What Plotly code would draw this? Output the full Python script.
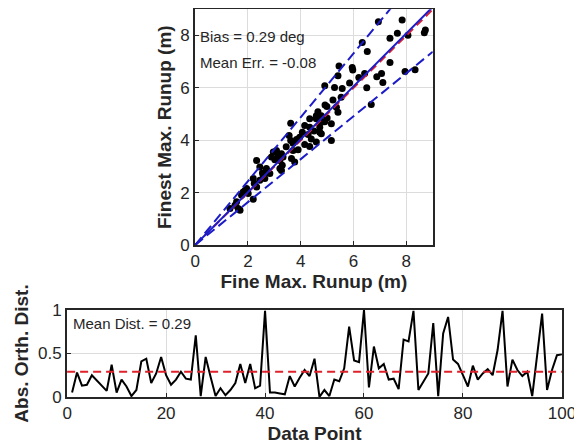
import plotly.graph_objs as go
from plotly.subplots import make_subplots

# scatter: fine vs finest max runup (m)
fine_runup = [6.94, 7.84, 8.72, 8.68, 7.66, 7.38, 8.06, 6.33, 6.52, 5.45,
              5.95, 5.97, 7.38, 6.42, 5.41, 7.06, 6.88, 7.11, 7.95, 8.33,
              5.85, 4.91, 5.28, 5.57, 6.50, 5.22, 5.53, 4.92, 4.99, 6.67,
              5.41, 5.35, 4.65, 4.59, 4.78, 5.16, 4.15, 4.34, 4.72, 4.59,
              4.78, 4.91, 4.34, 3.62, 4.06, 4.28, 4.72, 4.78, 5.16, 3.56,
              3.62, 3.71, 3.84, 3.96, 3.90, 4.15, 4.34, 4.59, 2.96, 3.08,
              3.14, 3.27, 2.89, 3.02, 3.21, 3.71, 3.65, 3.77, 2.33, 2.45,
              2.70, 3.27, 3.21, 2.70, 2.83, 2.58, 2.64, 2.45, 2.20, 2.24,
              2.33, 1.95, 1.82, 2.01, 1.76, 2.20, 1.57, 1.51, 1.63, 1.70,
              1.32, 3.33, 4.50, 3.45, 2.55, 1.90, 6.20, 4.40, 3.30, 5.00]
finest_runup = [8.53, 8.59, 8.21, 8.11, 8.09, 7.90, 8.01, 7.73, 7.39, 6.84,
                6.78, 6.68, 6.97, 6.55, 6.46, 6.55, 6.43, 6.21, 6.63, 6.69,
                6.19, 6.08, 6.02, 5.98, 6.01, 5.54, 5.64, 5.35, 5.29, 5.37,
                5.07, 5.26, 5.09, 4.94, 4.94, 4.63, 4.56, 4.50, 4.50, 4.82,
                4.69, 4.71, 4.82, 4.65, 4.31, 4.22, 4.31, 4.25, 3.99, 4.18,
                3.99, 3.89, 4.03, 4.12, 3.64, 3.84, 3.76, 3.93, 3.55, 3.61,
                3.42, 3.49, 3.36, 3.26, 3.23, 3.61, 3.30, 3.17, 3.23, 2.98,
                2.92, 2.85, 2.92, 2.85, 2.73, 2.66, 2.54, 2.47, 2.54, 2.35,
                2.22, 2.16, 2.03, 1.97, 1.90, 1.75, 1.65, 1.52, 1.40, 1.33,
                1.40, 3.36, 4.35, 3.75, 2.75, 2.10, 6.40, 4.05, 3.05, 4.85]

# fit lines (slopes through origin)
line_x = [0, 9]
fit_slope = 1.0102
upper_slope = 1.22
lower_slope = 0.82
one_to_one = 1.0

# orthogonal distance per data point
point_idx = list(range(1, 101))
orth_dist = [0.05, 0.28, 0.13, 0.14, 0.25, 0.19, 0.13, 0.07, 0.37, 0.05,
             0.20, 0.12, 0.01, 0.08, 0.41, 0.44, 0.16, 0.27, 0.46, 0.25,
             0.14, 0.20, 0.29, 0.21, 0.20, 0.71, 0.01, 0.46, 0.23, 0.01,
             0.10, 0.02, 0.08, 0.16, 0.38, 0.16, 0.38, 0.10, 0.13, 0.99,
             0.05, 0.05, 0.04, 0.03, 0.24, 0.12, 0.22, 0.31, 0.24, 0.44,
             0.00, 0.08, 0.01, 0.20, 0.18, 0.33, 0.81, 0.42, 0.40, 1.00,
             0.11, 0.58, 0.33, 0.38, 0.20, 0.21, 0.09, 0.66, 0.64, 0.99,
             0.08, 0.18, 0.27, 0.85, 0.01, 0.73, 0.92, 0.43, 0.38, 0.25,
             0.12, 0.36, 0.20, 0.27, 0.32, 0.25, 0.54, 0.99, 0.12, 0.43,
             0.31, 0.24, 0.29, 0.01, 0.52, 0.96, 0.08, 0.31, 0.48, 0.49]
mean_dist = 0.29
mean_x = [0, 100]

blue = '#1c1cc8'
red = '#e0202a'
ink = '#262626'

fig = make_subplots(rows=2, cols=1)

fig.add_trace(go.Scatter(x=fine_runup, y=finest_runup, mode='markers',
                         marker=dict(color='black', size=7)), row=1, col=1)
fig.add_trace(go.Scatter(x=line_x, y=[one_to_one * v for v in line_x], mode='lines',
                         line=dict(color=red, width=2, dash='8px,5px')), row=1, col=1)
fig.add_trace(go.Scatter(x=line_x, y=[fit_slope * v for v in line_x], mode='lines',
                         line=dict(color=blue, width=2)), row=1, col=1)
fig.add_trace(go.Scatter(x=line_x, y=[upper_slope * v for v in line_x], mode='lines',
                         line=dict(color=blue, width=2, dash='10px,5px')), row=1, col=1)
fig.add_trace(go.Scatter(x=line_x, y=[lower_slope * v for v in line_x], mode='lines',
                         line=dict(color=blue, width=2, dash='10px,5px')), row=1, col=1)

fig.add_trace(go.Scatter(x=point_idx, y=orth_dist, mode='lines',
                         line=dict(color='black', width=2)), row=2, col=1)
fig.add_trace(go.Scatter(x=mean_x, y=[mean_dist] * 2, mode='lines',
                         line=dict(color=red, width=2, dash='8px,5px')), row=2, col=1)

axis_style = dict(showline=True, mirror=True, linecolor=ink, linewidth=2,
                  gridcolor='#dcdcdc', gridwidth=1, zeroline=False,
                  ticks='inside', ticklen=4, tickcolor=ink, automargin=False,
                  tickfont=dict(family='Liberation Sans', size=17, color=ink))
title_font = dict(family='Liberation Sans', size=19, color=ink)

# page body has an 8px margin, so the figure is 8px smaller than the window
fig.update_layout(
    width=574, height=439, showlegend=False,
    margin=dict(l=0, r=0, t=0, b=0),
    plot_bgcolor='white', paper_bgcolor='white',
    xaxis=dict(axis_style, domain=[0.326, 0.740], range=[0, 9], dtick=2,
               title=dict(text='<b>Fine Max. Runup (m)</b>', font=title_font, standoff=2)),
    yaxis=dict(axis_style, domain=[0.460, 0.997], range=[0, 9], dtick=2,
               title=dict(text='<b>Finest Max. Runup (m)</b>', font=title_font, standoff=4)),
    xaxis2=dict(axis_style, domain=[0.103, 0.965], range=[0, 100], dtick=20,
                title=dict(text='<b>Data Point</b>', font=title_font, standoff=2)),
    yaxis2=dict(axis_style, domain=[0.114, 0.312], range=[0, 1],
                tickvals=[0, 0.5, 1], ticktext=['0', '0.5', '1'],
                title=dict(text='<b>Abs. Orth. Dist.</b>', font=title_font, standoff=4)),
)

note_font = dict(family='Liberation Sans', size=15, color=ink)
fig.add_annotation(x=0.12, y=7.98, xref='x', yref='y', text='Bias = 0.29 deg',
                   showarrow=False, xanchor='left', font=note_font)
fig.add_annotation(x=0.12, y=6.96, xref='x', yref='y', text='Mean Err. = -0.08',
                   showarrow=False, xanchor='left', font=note_font)
fig.add_annotation(x=0.8, y=0.85, xref='x2', yref='y2', text='Mean Dist. = 0.29',
                   showarrow=False, xanchor='left', font=note_font)

fig.write_html('out.html')
